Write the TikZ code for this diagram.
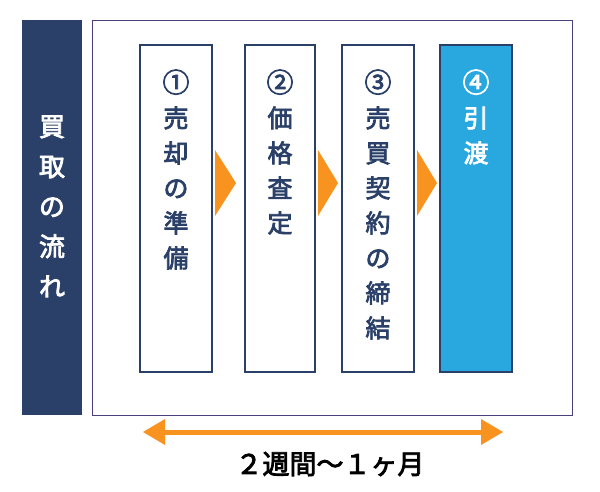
\documentclass[tikz,border=0pt]{standalone}
\usepackage{fontspec}
\setmainfont{Noto Sans CJK JP}
\newfontfamily\med[FakeBold=3]{Noto Sans CJK JP}
\definecolor{navy}{HTML}{2B4068}
\definecolor{org}{HTML}{F7931E}
\definecolor{sky}{HTML}{29A8E0}
\definecolor{frame}{HTML}{4A3F7A}
\begin{document}
\begin{tikzpicture}[x=1pt,y=-1pt,
  stepbox/.style={draw=navy,line width=2.2pt,fill=white},
  vtext/.style={anchor=north,align=center,font=\fontsize{25}{35}\selectfont\med,text=navy},
  tri/.style={fill=org,draw=none}]
\useasboundingbox (0,0) rectangle (600,491);
\fill[navy] (22,20) rectangle (82,415);
\node[anchor=north,align=center,text=white,font=\fontsize{26}{40}\selectfont\med] (title) at (52,112) {買\\取\\の\\流\\れ};
\draw[frame,line width=0.8pt] (92,20) rectangle (572,415);
\draw[stepbox] (140,45) rectangle (212,372);
\draw[stepbox] (245,45) rectangle (315,372);
\draw[stepbox] (342,45) rectangle (414,372);
\draw[stepbox,fill=sky] (440,45) rectangle (512,372);
\node[vtext] (s1) at (176,66) {{\fontsize{27}{45}\selectfont ①}\\売\\却\\の\\準\\備};
\node[vtext] (s2) at (280,66) {{\fontsize{27}{45}\selectfont ②}\\価\\格\\査\\定};
\node[vtext] (s3) at (378,66) {{\fontsize{27}{45}\selectfont ③}\\売\\買\\契\\約\\の\\締\\結};
\node[vtext,text=white] (s4) at (476,66) {{\fontsize{27}{45}\selectfont ④}\\引\\渡};
\fill[tri] (215,150) -- (236,183) -- (215,216) -- cycle;
\fill[tri] (318,150) -- (338,183) -- (318,216) -- cycle;
\fill[tri] (417,150) -- (437,183) -- (417,216) -- cycle;
\coordinate (a) at (143,432);
\coordinate (b) at (503,432);
\draw[org,line width=5pt] (160,432) -- (486,432);
\fill[org] (a) -- (165,419) -- (165,445) -- cycle;
\fill[org] (b) -- (481,419) -- (481,445) -- cycle;
\node[font=\fontsize{27}{30}\selectfont\med,text=black] (dur) at (330,464) {２週間～１ヶ月};
\end{tikzpicture}
\end{document}
